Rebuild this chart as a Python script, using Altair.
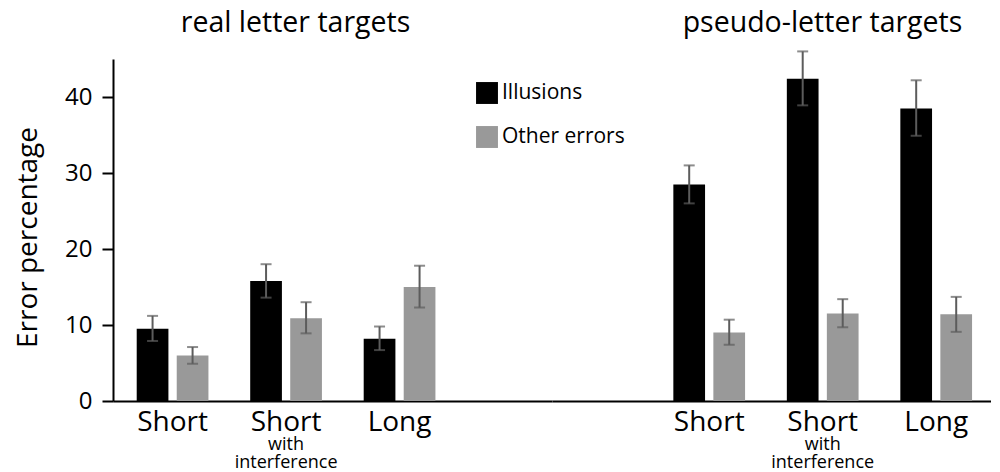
import altair as alt
import pandas as pd

FONT = "Open Sans"

conditions = ["Short", "Short with interference", "Long"]
sublabels = ["", "with\ninterference", ""]
series = ["Illusions", "Other errors"]
series_colors = ["#000000", "#999999"]

real_illusions = [9.5, 15.8, 8.2]
real_illusions_lo = [7.9, 13.6, 6.7]
real_illusions_hi = [11.2, 18.0, 9.8]
real_other = [6.0, 10.9, 15.0]
real_other_lo = [4.9, 8.9, 12.3]
real_other_hi = [7.1, 13.0, 17.8]

pseudo_illusions = [28.5, 42.4, 38.5]
pseudo_illusions_lo = [26.0, 38.9, 34.9]
pseudo_illusions_hi = [31.0, 46.0, 42.2]
pseudo_other = [9.0, 11.5, 11.4]
pseudo_other_lo = [7.4, 9.7, 9.1]
pseudo_other_hi = [10.7, 13.4, 13.7]

y_ticks = [0, 5, 10, 15, 20, 25, 30, 35, 40, 45]


def make_df(ill, ill_lo, ill_hi, oth, oth_lo, oth_hi):
    rows = []
    for i, c in enumerate(conditions):
        rows.append(dict(condition=c, series=series[0], value=ill[i], lo=ill_lo[i], hi=ill_hi[i]))
        rows.append(dict(condition=c, series=series[1], value=oth[i], lo=oth_lo[i], hi=oth_hi[i]))
    return pd.DataFrame(rows)


sub_df = pd.DataFrame({"condition": conditions, "sub": sublabels})

W = 439
H = 342


def panel(df, title, title_x, align, show_y, show_legend):
    x = alt.X(
        "condition:N", sort=conditions, title=None,
        scale=alt.Scale(paddingInner=0.368, paddingOuter=0.618, align=align),
        axis=alt.Axis(
            labelExpr="datum.value == 'Short with interference' ? 'Short' : datum.value",
            labelAngle=0, labelFontSize=28, labelFont=FONT, labelColor="black",
            ticks=False, tickSize=0, domainColor="black", domainWidth=2, labelPadding=7,
        ),
    )
    xoff = alt.XOffset("series:N", sort=series, scale=alt.Scale(paddingInner=0.2075, paddingOuter=0))
    if show_y:
        yaxis = alt.Axis(
            values=y_ticks, labelExpr="datum.value % 10 == 0 ? datum.label : ''",
            tickSize=11, tickColor="black", tickWidth=2, domainColor="black", domainWidth=2,
            labelFontSize=24, labelFont=FONT, labelColor="black", labelPadding=10,
            titleFontSize=28, titleFont=FONT, titleFontWeight="normal", titleColor="black",
            titlePadding=22.5, titleY=H / 2 + 7, grid=False,
        )
        ytitle = "Error percentage"
    else:
        yaxis = None
        ytitle = None
    yscale = alt.Scale(domain=[0, 45], nice=False, zero=True)
    if show_legend:
        legend = alt.Legend(
            title=None, orient="none", legendX=363, legendY=23, padding=0,
            symbolType="square", symbolSize=480, symbolStrokeWidth=0, symbolOpacity=1,
            labelFontSize=21, labelFont=FONT, labelColor="black", rowPadding=22, labelOffset=4,
        )
    else:
        legend = None
    color = alt.Color("series:N", sort=series, scale=alt.Scale(domain=series, range=series_colors), legend=legend)

    base = alt.Chart(df)
    bars = base.mark_bar().encode(
        x=x, xOffset=xoff, y=alt.Y("value:Q", scale=yscale, title=ytitle, axis=yaxis), color=color
    )
    rule = base.mark_rule(color="#5c5c5c", strokeWidth=2).encode(
        x=x, xOffset=xoff, y=alt.Y("lo:Q", scale=yscale), y2="hi:Q"
    )
    tick_lo = base.mark_tick(color="#5c5c5c", thickness=2, size=11).encode(
        x=x, xOffset=xoff, y=alt.Y("lo:Q", scale=yscale)
    )
    tick_hi = base.mark_tick(color="#5c5c5c", thickness=2, size=11).encode(
        x=x, xOffset=xoff, y=alt.Y("hi:Q", scale=yscale)
    )
    subtext = alt.Chart(sub_df).mark_text(
        font=FONT, fontSize=18, baseline="top", lineBreak="\n", lineHeight=18, color="black"
    ).encode(x=x, y=alt.value(H + 35), text="sub:N")
    title_mark = alt.Chart(pd.DataFrame({"t": [title]})).mark_text(
        font=FONT, fontSize=28.5, baseline="alphabetic", align="center", color="black"
    ).encode(x=alt.value(title_x), y=alt.value(-27), text="t:N")

    return alt.layer(bars, rule, tick_lo, tick_hi, subtext, title_mark).properties(width=W, height=H)


left = panel(make_df(real_illusions, real_illusions_lo, real_illusions_hi,
                     real_other, real_other_lo, real_other_hi),
             "real letter targets", 182.5, 0.169, True, True)
right = panel(make_df(pseudo_illusions, pseudo_illusions_lo, pseudo_illusions_hi,
                      pseudo_other, pseudo_other_lo, pseudo_other_hi),
              "pseudo-letter targets", 270.5, 0.865, False, False)

chart = alt.hconcat(left, right, spacing=0, bounds="flush").properties(
    padding={"left": 6, "top": 1, "right": 0, "bottom": 0}
).configure_view(stroke=None)

chart.save("out.html", embed_options={"renderer": "svg", "actions": False})
